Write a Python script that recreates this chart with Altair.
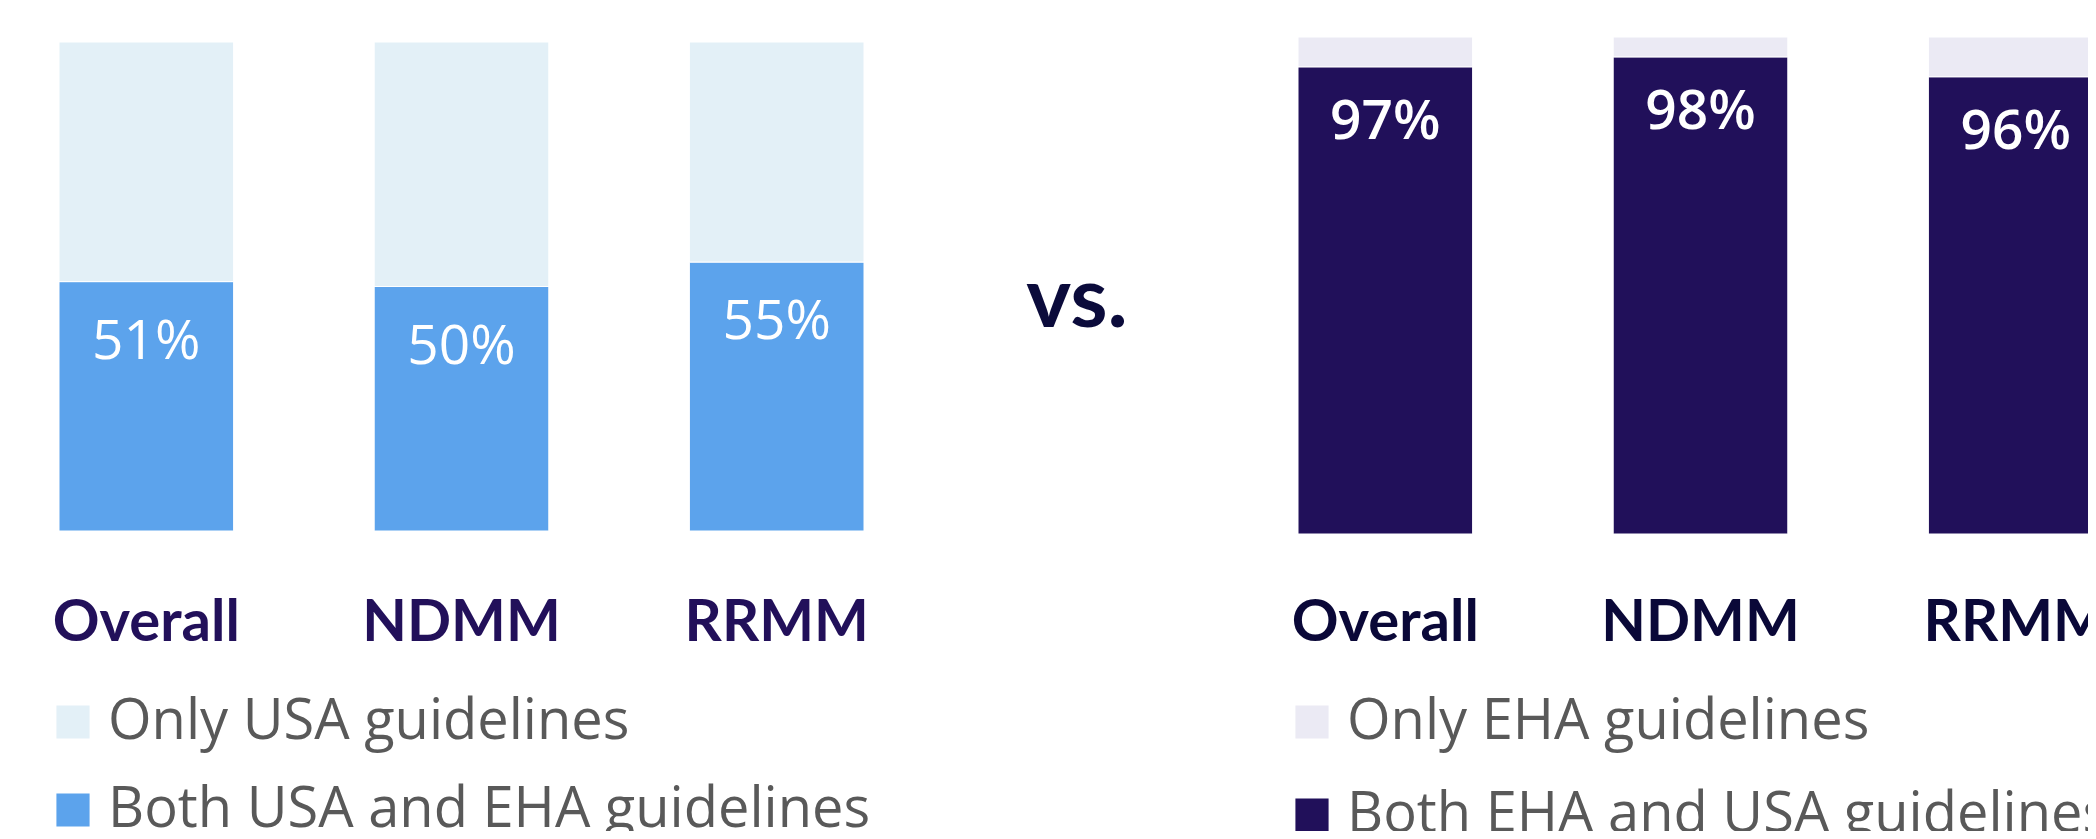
import altair as alt
import pandas as pd

# ---- data ----
categories = ["Overall", "NDMM", "RRMM"]

usa_series = ["Only USA guidelines", "Both USA and EHA guidelines"]
usa_both = [51, 50, 55]
usa_only = [49, 50, 45]
usa_labels = ["51%", "50%", "55%"]

eha_series = ["Only EHA guidelines", "Both EHA and USA guidelines"]
# segment proportions as drawn in the picture; printed labels below
eha_both = [94, 96, 92]
eha_only = [6, 4, 8]
eha_labels = ["97%", "98%", "96%"]

usa_colors = ["#e3f0f7", "#5ca3ec"]
eha_colors = ["#ebeaf4", "#21105a"]

FONT = "Open Sans"
BOLD_FONT = "Lato"


def panel(series, both, only, labels, colors, cat_color, y_scale, label_dy, label_weight, row_pad):
    bars = pd.DataFrame({
        "category": categories * 2,
        "series": [series[1]] * 3 + [series[0]] * 3,
        "value": both + only,
        "order": [0] * 3 + [1] * 3,
    })
    text_df = pd.DataFrame({"category": categories, "top": both, "label": labels})

    x_enc = alt.X(
        "category:N", sort=categories, title=None,
        scale=alt.Scale(paddingInner=0.446, paddingOuter=0),
        axis=alt.Axis(labelAngle=0, ticks=False, domain=False, grid=False,
                      labelPadding=106, labelBaseline="alphabetic",
                      labelFont=BOLD_FONT, labelFontSize=58, labelFontWeight="bold",
                      labelColor=cat_color, labelLimit=0),
    )
    bar = alt.Chart(bars).mark_bar(stroke="white", strokeWidth=1).encode(
        x=x_enc,
        y=alt.Y("value:Q", stack="zero", scale=y_scale, axis=None),
        color=alt.Color(
            "series:N",
            scale=alt.Scale(domain=series, range=colors),
            legend=alt.Legend(title=None, orient="none", legendX=-14, legendY=657,
                              direction="vertical", symbolType="square",
                              symbolSize=1100, symbolStrokeWidth=0,
                              labelFont=FONT, labelFontSize=56,
                              labelColor="#595959", labelOffset=7,
                              rowPadding=row_pad, labelLimit=0, padding=0),
        ),
        order=alt.Order("order:Q"),
    )
    txt = alt.Chart(text_df).mark_text(
        font=FONT, fontSize=55, fontWeight=label_weight, color="white",
        baseline="alphabetic", dy=label_dy,
    ).encode(
        x=alt.X("category:N", sort=categories),
        y=alt.Y("top:Q", stack=None, scale=y_scale, axis=None),
        text="label:N",
    )
    return alt.layer(bar, txt).properties(width=805, height=497)


left = panel(usa_series, usa_both, usa_only, usa_labels, usa_colors, "#22105a",
             alt.Scale(domain=[0, 100], nice=False, range=[494, 5]), 77, "normal", 32)
right = panel(eha_series, eha_both, eha_only, eha_labels, eha_colors, "#0a0838",
              alt.Scale(domain=[0, 100], nice=False), 72, 600, 37)

vs = alt.Chart(pd.DataFrame({"t": ["vs."]})).mark_text(
    font=BOLD_FONT, fontSize=85, fontWeight="bold", color="#0b0b3b",
    baseline="alphabetic", dx=-4,
).encode(text="t:N").properties(width=434, height=580)

# fixed canvas that fits inside the page margins; content past its right/bottom edge is cut off
chart = alt.hconcat(left, vs, right, spacing=0, bounds="flush").resolve_scale(
    color="independent", x="independent", y="independent"
).resolve_legend(color="independent").configure_view(stroke=None).properties(
    autosize=alt.AutoSizeParams(type="none"),
    padding={"left": 51, "top": 29, "right": 2080 - 51, "bottom": 823 - 29},
)

chart.save("out.html", embed_options={"renderer": "svg", "actions": False})
